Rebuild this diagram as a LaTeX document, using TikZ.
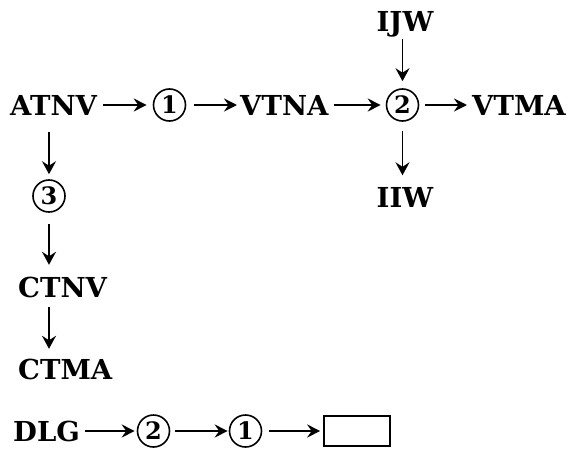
\documentclass[tikz,border=0pt]{standalone}
\usepackage{fontspec}
\setmainfont{DejaVu Serif}
\usetikzlibrary{arrows.meta}
\newcommand{\lblfont}{\fontsize{27.5}{28}\selectfont\bfseries}
\newcommand{\numfont}{\fontsize{24}{24}\selectfont\bfseries}
\begin{document}
\begin{tikzpicture}[x=1pt,y=-1pt,
  lbl/.style={font=\lblfont, inner sep=0pt, text height=20pt, text depth=0pt},
  num/.style={circle, draw, line width=1.6pt, minimum size=32pt, inner sep=0pt, font=\numfont},
  harr/.style={line width=2pt, -{Stealth[length=13pt,width=13pt,inset=4.5pt]}},
  varr/.style={line width=1.5pt, -{Stealth[length=13pt,width=14pt,inset=4.5pt]}},
  blank/.style={draw, line width=1.6pt, minimum width=66pt, minimum height=30pt, inner sep=0pt}
]
\useasboundingbox (0,0) rectangle (568,455);
% row 1
\node[lbl, anchor=west] (atnv) at (10,105) {ATNV};
\node[num] (c1) at (169.5,105) {1};
\node[lbl, anchor=west] (vtna) at (240,105) {VTNA};
\node[num] (c2) at (402.5,105) {2};
\node[lbl, anchor=west] (vtma) at (472,105) {VTMA};
\node[lbl] (ijw) at (405,21) {IJW};
\node[lbl] (iiw) at (405,197.5) {IIW};
% left column
\node[num] (c3) at (49,196) {3};
\node[lbl, anchor=west] (ctnv) at (18,287) {CTNV};
\node[lbl, anchor=west] (ctma) at (18,369) {CTMA};
% bottom row
\node[lbl, anchor=west] (dlg) at (13,431) {DLG};
\node[num] (c2b) at (153.5,431) {2};
\node[num] (c1b) at (245.5,431) {1};
\node[blank] (box) at (357,431) {};
% connectors
\draw[harr, shorten <=6pt, shorten >=6pt] (atnv.east) -- (c1.west);
\draw[harr, shorten <=8pt, shorten >=3pt] (c1.east) -- (vtna.west);
\draw[harr, shorten <=5pt, shorten >=5pt] (vtna.east) -- (c2.west);
\draw[harr, shorten <=6pt, shorten >=5pt] (c2.east) -- (vtma.west);
\draw[varr, shorten <=8pt, shorten >=7pt] (c2 |- ijw.south) -- (c2.north);
\draw[varr, shorten <=9pt, shorten >=12pt] (c2.south) -- (c2 |- iiw.north);
\draw[varr, shorten <=17pt, shorten >=5pt] (c3 |- atnv.south) -- (c3.north);
\draw[varr, shorten <=11pt, shorten >=12pt] (c3.south) -- (c3 |- ctnv.north);
\draw[varr, shorten <=10pt, shorten >=10pt] (c3 |- ctnv.south) -- (c3 |- ctma.north);
\draw[harr, shorten <=5pt, shorten >=2pt] (dlg.east) -- (c2b.west);
\draw[harr, shorten <=5pt, shorten >=1pt] (c2b.east) -- (c1b.west);
\draw[harr, shorten <=7pt, shorten >=3pt] (c1b.east) -- (box.west);
\end{tikzpicture}
\end{document}
